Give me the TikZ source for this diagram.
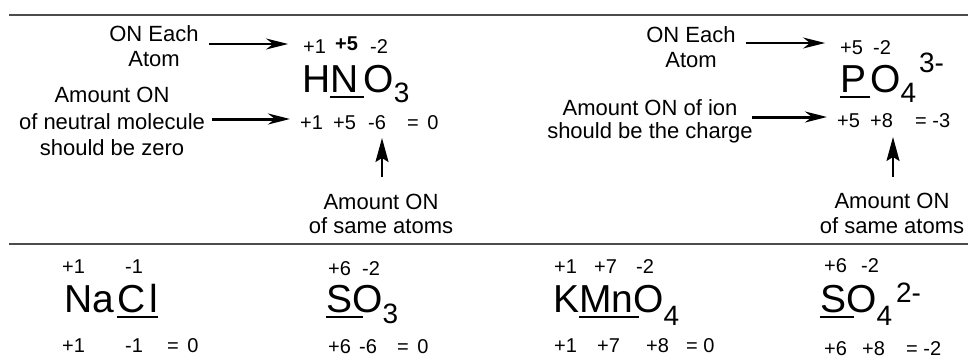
\documentclass[tikz,border=0pt]{standalone}
\usepackage{fontspec}
\setmainfont{Liberation Sans}
\usetikzlibrary{arrows.meta}
\newcommand{\myul}[2][0pt]{\setbox0=\hbox{#2}\rlap{\rule[-6pt]{\dimexpr\wd0+#1\relax}{2pt}}\box0}
\newcommand{\subx}[2]{\raisebox{#1}{\fontsize{28}{30}\selectfont #2}}
\begin{document}
\begin{tikzpicture}[x=1pt,y=-1pt,
  lbl/.style={font=\fontsize{22}{25}\selectfont, align=center, inner sep=0pt},
  num/.style={font=\fontsize{20}{22}\selectfont, inner sep=0pt, anchor=base west},
  frm/.style={font=\fontsize{39}{44}\selectfont, inner sep=0pt, anchor=base west},
  divider/.style={draw=black!70, line width=2.5pt},
  thinarr/.style={line width=1.3pt, -{Stealth[length=22pt,width=11pt,inset=7pt]}},
  thickarr/.style={line width=3pt, -{Stealth[length=22pt,width=11pt,inset=7pt]}},
  uparr/.style={line width=2pt, -{Stealth[length=24pt,width=13pt,inset=4pt]}}]
\useasboundingbox (0,0) rectangle (968,361);
\draw[divider] (9,15) -- (968,15);
\draw[divider] (9,244) -- (968,244);

% labels
\node[lbl] (oneachL) at (154,46.6) {ON Each\\Atom};
\node[lbl, font=\fontsize{22}{26.5}\selectfont] (neutral) at (112,121.6) {Amount ON\\of neutral molecule\\should be zero};
\node[lbl, font=\fontsize{22}{24}\selectfont] (sameL) at (381,214) {Amount ON\\of same atoms};
\node[lbl] (oneachR) at (691,47) {ON Each\\Atom};
\node[lbl, font=\fontsize{22}{23}\selectfont] (ionR) at (650,121) {Amount ON of ion\\should be the charge};
\node[lbl, font=\fontsize{22}{25}\selectfont] (sameR) at (892,213) {Amount ON\\of same atoms};

% formulas
\node[frm] (hno) at (302,92) {H\myul{N\kern5pt}O\subx{-10.5pt}{3}};
\node[frm] (po) at (840,92) {\myul{P\kern4pt}O\subx{-10pt}{4}\kern3pt\subx{19pt}{3-}};
\node[frm] (nacl) at (64,312) {Na\kern3pt\myul{C\kern4pt l}};
\node[frm] (so3) at (326,312) {\myul[11pt]{S}O\subx{-11pt}{3}};
\node[frm] (kmno) at (553,312) {K\myul[6pt]{Mn}O\subx{-13pt}{4}};
\node[frm] (so4) at (820,312) {\myul[8pt]{S}O\subx{-13pt}{4}\kern4pt\subx{10pt}{2-}};

% HNO3 numbers
\node[num] (hT1) at (303,54) {+1};
\node[num] (hT2) at (335,51) {\textbf{+5}};
\node[num] (hT3) at (370,54) {-2};
\node[num] (hB1) at (300,129) {+1};
\node[num] (hB2) at (333,129) {+5};
\node[num] (hB3) at (368,129) {-6};
\node[num] (hB4) at (407,129) {=\kern3pt{} 0};
% PO4 numbers
\node[num] (pT1) at (840,55) {+5};
\node[num] (pT2) at (873,55) {-2};
\node[num] (pB1) at (837,127) {+5};
\node[num] (pB2) at (870,127) {+8};
\node[num] (pB3) at (915,127) {= -3};
% NaCl numbers
\node[num] (nT1) at (62,273) {+1};
\node[num] (nT2) at (125,273) {-1};
\node[num] (nB1) at (62,352) {+1};
\node[num] (nB2) at (125,352) {-1};
\node[num] (nB3) at (167,352) {=\kern3pt{} 0};
% SO3 numbers
\node[num] (sT1) at (328,275) {+6};
\node[num] (sT2) at (362,275) {-2};
\node[num] (sB1) at (328,353) {+6};
\node[num] (sB2) at (359,353) {-6};
\node[num] (sB3) at (397,353) {=\kern3pt{} 0};
% KMnO4 numbers
\node[num] (kT1) at (554,273) {+1};
\node[num] (kT2) at (594,273) {+7};
\node[num] (kT3) at (636,273) {-2};
\node[num] (kB1) at (554,352) {+1};
\node[num] (kB2) at (597,352) {+7};
\node[num] (kB3) at (646,352) {+8};
\node[num] (kB4) at (686,352) {= 0};
% SO4 numbers
\node[num] (qT1) at (824,272) {+6};
\node[num] (qT2) at (861,272) {-2};
\node[num] (qB1) at (824,355) {+6};
\node[num] (qB2) at (862,355) {+8};
\node[num] (qB3) at (906,355) {= -2};

% arrow ends
\coordinate (a1s) at (209,44); \coordinate (a1e) at (288,44);
\coordinate (a2s) at (212,119); \coordinate (a2e) at (290,119);
\coordinate (a3s) at (746,43); \coordinate (a3e) at (825,43);
\coordinate (a4s) at (752,117); \coordinate (a4e) at (827,117);
\coordinate (a5s) at (382,177); \coordinate (a5e) at (382,138);
\coordinate (a6s) at (893,177); \coordinate (a6e) at (893,137);
\draw[thinarr] (a1s) -- (a1e);
\draw[thickarr] (a2s) -- (a2e);
\draw[thinarr] (a3s) -- (a3e);
\draw[thickarr] (a4s) -- (a4e);
\draw[uparr] (a5s) -- (a5e);
\draw[uparr] (a6s) -- (a6e);
\end{tikzpicture}
\end{document}
